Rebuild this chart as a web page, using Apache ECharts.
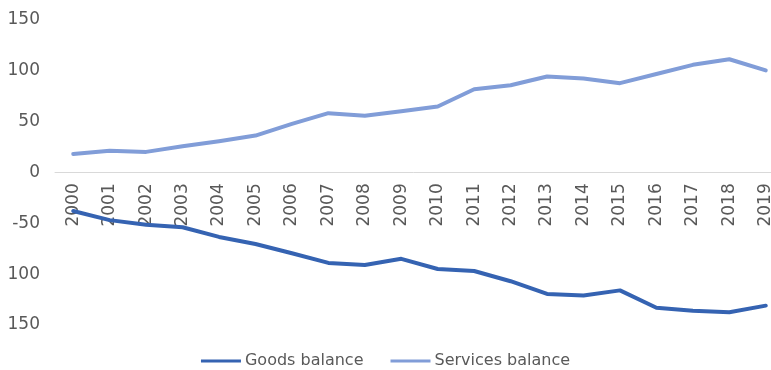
<!DOCTYPE html>
<html>
<head>
<meta charset="utf-8">
<script src="https://cdn.jsdelivr.net/npm/echarts@6/dist/echarts.min.js"></script>
<style>
  html, body { margin: 0; padding: 0; background: #fff; }
  #chart { width: 771px; height: 370px; }
</style>
</head>
<body>
<div id="chart"></div>
<script>
// Balance of trade, goods vs services, 2000–2019
const years = ['2000','2001','2002','2003','2004','2005','2006','2007','2008','2009',
               '2010','2011','2012','2013','2014','2015','2016','2017','2018','2019'];
const goodsBalance = [-38, -47, -51.5, -54, -63.5, -70.5, -79.5, -89, -91, -85,
                      -95, -97, -107, -119.5, -121, -116, -133, -136, -137.5, -131];
const servicesBalance = [18, 21, 20, 25.5, 30.5, 36, 47.5, 58, 55.5, 60,
                         64.5, 81.5, 85.5, 94, 92, 87.5, 96.5, 105.5, 111, 100];
const yTickLabels = { '150': '150', '100': '100', '50': '50', '0': '0', '-50': '-50', '-100': '100', '-150': '150' };

const FONT = '"DejaVu Sans", "Noto Sans", sans-serif';
const TEXT = '#595959';

const GRID_TOP = 19.5;
const GRID_BOTTOM = 45;
const PLOT_H = 370 - GRID_TOP - GRID_BOTTOM;
// category axis sits on the zero line: lift it from the grid bottom by half the plot height
const ZERO_LIFT = PLOT_H * (150 / 300);

const chart = echarts.init(document.getElementById('chart'), null, { renderer: 'canvas' });
chart.setOption({
  animation: false,
  backgroundColor: '#ffffff',
  grid: { left: 55, right: -13, top: GRID_TOP, bottom: GRID_BOTTOM, containLabel: false, outerBoundsMode: 'none' },
  legend: {
    bottom: -4,
    left: 'center',
    itemWidth: 40,
    itemHeight: 3,
    itemGap: 27,
    icon: 'rect',
    textStyle: { fontFamily: FONT, fontSize: 16, color: TEXT, padding: [0, 0, 0, -1] },
    data: ['Goods balance', 'Services balance']
  },
  xAxis: {
    type: 'category',
    data: years,
    boundaryGap: true,
    offset: -ZERO_LIFT,
    axisLine: { onZero: false, lineStyle: { color: '#d9d9d9', width: 1 } },
    axisTick: { show: false },
    axisLabel: {
      rotate: 90,
      margin: 11,
      interval: 0,
      fontFamily: FONT,
      fontSize: 17,
      color: TEXT
    },
    splitLine: { show: false }
  },
  yAxis: {
    type: 'value',
    min: -150,
    max: 150,
    interval: 50,
    axisLine: { show: false },
    axisTick: { show: false },
    splitLine: { show: false },
    axisLabel: {
      margin: 15,
      fontFamily: FONT,
      fontSize: 17,
      color: TEXT,
      formatter: v => yTickLabels[String(v)]
    }
  },
  series: [
    {
      name: 'Goods balance',
      type: 'line',
      data: goodsBalance,
      symbol: 'none',
      smooth: false,
      lineStyle: { color: '#3563b2', width: 4, cap: 'round', join: 'round' },
      itemStyle: { color: '#3563b2' }
    },
    {
      name: 'Services balance',
      type: 'line',
      data: servicesBalance,
      symbol: 'none',
      smooth: false,
      lineStyle: { color: '#819dd8', width: 4, cap: 'round', join: 'round' },
      itemStyle: { color: '#819dd8' }
    }
  ]
});
</script>
</body>
</html>
